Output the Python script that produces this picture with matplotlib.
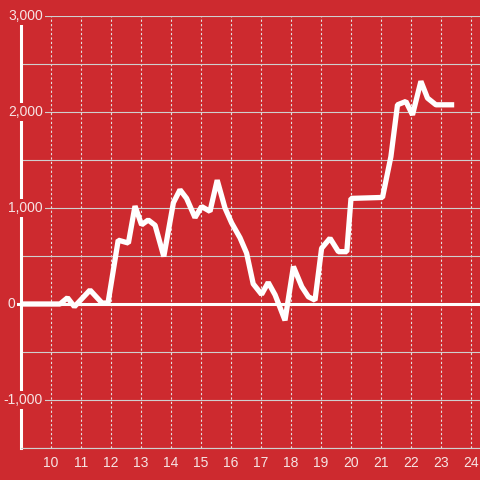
import numpy as np
from matplotlib import pyplot as plt

# hours of the day and running value
hours = [9.0, 10.3, 10.55, 10.78, 11.3, 11.7, 11.9, 12.24, 12.58, 12.8, 13.02,
         13.24, 13.47, 13.76, 14.08, 14.3, 14.52, 14.8, 15.02, 15.3, 15.54,
         15.8, 16.02, 16.3, 16.52, 16.74, 17.02, 17.24, 17.47, 17.8, 18.08,
         18.36, 18.58, 18.8, 19.02, 19.3, 19.58, 19.86, 20.0, 21.05, 21.33,
         21.55, 21.83, 22.05, 22.33, 22.55, 22.83, 23.44]
values = [0, 0, 65, -28, 145, 10, 10, 665, 635, 1020, 825,
          875, 820, 495, 1055, 1190, 1100, 900, 1015, 965, 1290,
          1000, 845, 690, 530, 210, 100, 225, 95, -170, 390,
          180, 75, 40, 580, 685, 545, 545, 1100, 1110, 1535,
          2075, 2110, 1970, 2320, 2145, 2075, 2075]

x_ticks = list(range(10, 25))
y_grid = np.arange(-1500, 3001, 500)
y_labels = [3000, 2000, 1000, 0, -1000]

bg = '#cd2a2f'
txt = '#f6e4e4'
plt.rcParams['font.family'] = ['Liberation Sans', 'DejaVu Sans']

fig = plt.figure(figsize=(4.8, 4.8), dpi=100, facecolor=bg)
ax = fig.add_axes([21 / 480, 32 / 480, 459 / 480, 432 / 480])
ax.set_facecolor(bg)
ax.set_xlim(9, 24.3)
ax.set_ylim(-1500, 3000)

ax.set_xticks(x_ticks)
ax.set_yticks(y_grid)
ax.tick_params(axis='both', length=0)
ax.tick_params(axis='x', labelcolor=txt, labelsize=10, pad=6)
ax.tick_params(axis='y', labelleft=False)
ax.grid(axis='y', color='#cfcfcf', linewidth=0.8)
ax.grid(axis='x', color='#e2e2e2', linewidth=0.8, linestyle=(0, (2, 2)))

for s in ['top', 'right']:
    ax.spines[s].set_visible(False)
ax.spines['left'].set_color('white')
ax.spines['left'].set_linewidth(2.2)
ax.spines['bottom'].set_color('#d0d0d0')
ax.spines['bottom'].set_linewidth(0.8)

# zero line
ax.axhline(0, xmin=-0.009, color='white', linewidth=2.2, clip_on=False, zorder=3)

ax.plot(hours, values, color='white', linewidth=3.8,
        solid_joinstyle='bevel', solid_capstyle='butt', zorder=4)

ytrans = ax.get_yaxis_transform()
for v in y_labels:
    xpos = 0.048 if v != 0 else -0.013
    ax.text(xpos, v, f'{v:,}', transform=ytrans, ha='right', va='center',
            color=txt, fontsize=10, clip_on=False, zorder=6,
            bbox=dict(boxstyle='square,pad=0.12', facecolor=bg, edgecolor='none'))

plt.savefig('out.png', dpi=100, facecolor=bg)
